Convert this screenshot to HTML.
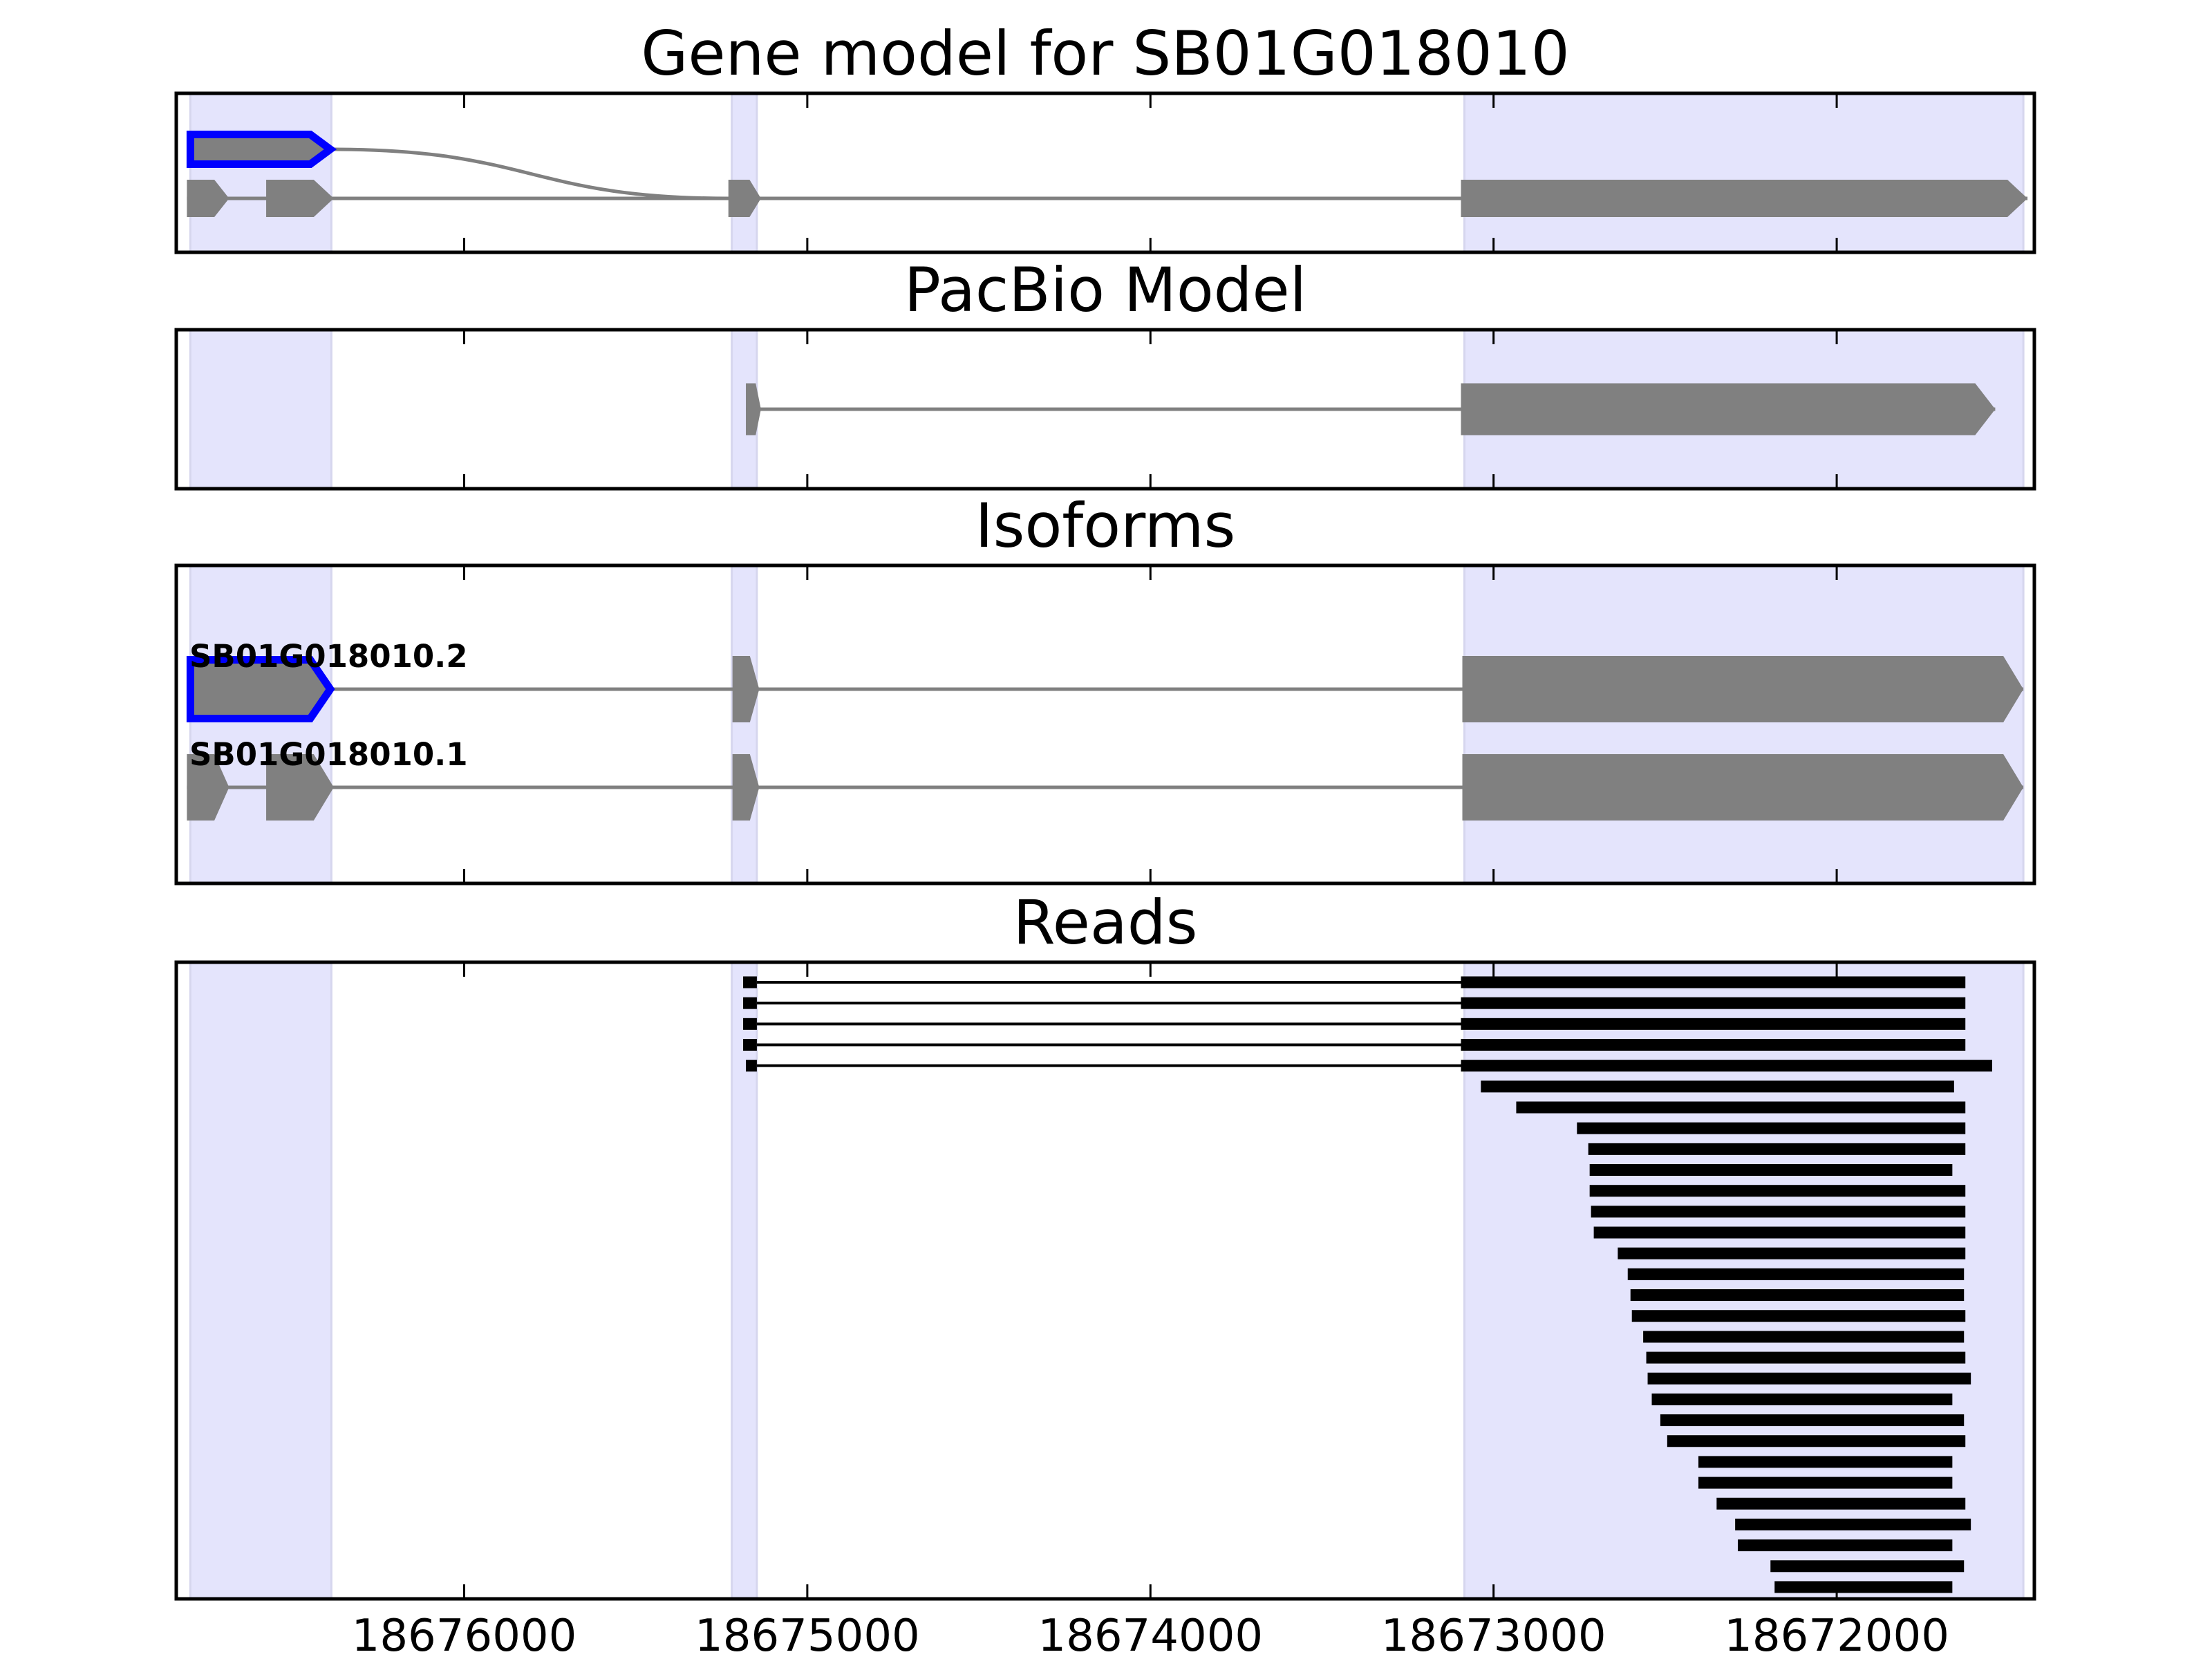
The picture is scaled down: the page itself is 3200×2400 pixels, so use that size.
<!DOCTYPE html>
<html><head><meta charset="utf-8">
<style>
html,body{margin:0;padding:0;background:#fff;}
svg{display:block;}
text{font-family:"DejaVu Sans","Liberation Sans",sans-serif;}
</style></head>
<body>
<svg id="fig" width="3200" height="2400" viewBox="0 0 3200 2400" xmlns="http://www.w3.org/2000/svg"></svg>
<script>
// ---- data (genomic coordinates) ----
const tickValues = [18676000, 18675000, 18674000, 18673000, 18672000];
const tickLabels = ["18676000", "18675000", "18674000", "18673000", "18672000"];
const shadedStarts = [18676798, 18675220, 18673085];
const shadedEnds   = [18676387, 18675147, 18671456];
const geneAltExonStarts = [18676808];
const geneAltExonEnds   = [18676380];
const geneExonStarts = [18676808, 18676577, 18675230, 18673095];
const geneExonEnds   = [18676685, 18676380, 18675135, 18671444];
const pacbioExonStarts = [18675179, 18673095];
const pacbioExonEnds   = [18675135, 18671538];
const iso2ExonStarts = [18676808, 18675218, 18673091];
const iso2ExonEnds   = [18676380, 18675140, 18671456];
const iso1ExonStarts = [18676808, 18676577, 18675218, 18673091];
const iso1ExonEnds   = [18676685, 18676380, 18675140, 18671456];
const isoformNames = ["SB01G018010.2", "SB01G018010.1"];
const readStarts = [18673095,18673095,18673095,18673095,18673095,18673037,18672934,18672757,18672724,18672720,18672720,18672716,18672708,18672638,18672609,18672601,18672597,18672564,18672555,18672551,18672539,18672514,18672494,18672403,18672403,18672350,18672296,18672288,18672193,18672181];
const readEnds   = [18671625,18671625,18671625,18671625,18671547,18671658,18671625,18671625,18671625,18671663,18671625,18671625,18671625,18671625,18671629,18671629,18671625,18671629,18671625,18671609,18671663,18671629,18671625,18671663,18671663,18671625,18671609,18671663,18671629,18671663];
const splicedReadBlockStarts = [18675187,18675187,18675187,18675187,18675179];
const splicedReadBlockEnds   = [18675147,18675147,18675147,18675147,18675147];

// ---- layout ----
const NS = "http://www.w3.org/2000/svg";
const svg = document.getElementById('fig');
const AX_L = 255, AX_R = 2943;
const X0V = 18676839, X1V = 18671424;
function xs(v){ return AX_L + (X0V - v) / (X0V - X1V) * (AX_R - AX_L); }
const panels = [
  {top:135, bot:365, title:"Gene model for SB01G018010", name:"gene-model-panel"},
  {top:477, bot:707, title:"PacBio Model", name:"pacbio-model-panel"},
  {top:818, bot:1278, title:"Isoforms", name:"isoforms-panel"},
  {top:1392, bot:2313, title:"Reads", name:"reads-panel"}
];
function mk(tag, attrs, parent){
  const e = document.createElementNS(NS, tag);
  for (const k in attrs) e.setAttribute(k, attrs[k]);
  (parent || svg).appendChild(e);
  return e;
}
const GRAY = "#808080";
function exonPath(s, e, yc, h, inset){
  const x1 = xs(s) + inset, x2 = xs(e) - inset;
  const len = x2 - x1;
  const tip = Math.min(29, len * 0.35);
  const t = h / 2;
  return `M${x1},${yc - t} L${x2 - tip},${yc - t} L${x2},${yc} L${x2 - tip},${yc + t} L${x1},${yc + t} Z`;
}
function drawModel(g, starts, ends, yc, h, outlineFirst, nm){
  const line = mk('line', {x1: xs(starts[0]), x2: xs(ends[ends.length - 1]), y1: yc, y2: yc, stroke: GRAY, 'stroke-width': 5}, g);
  
  
  for (let i = 0; i < starts.length; i++){
    const blue = outlineFirst && i === 0;
    const p = mk('path', {d: exonPath(starts[i], ends[i], yc, blue ? h - 11 : h, blue ? 5 : 0), fill: GRAY,
      stroke: blue ? "#0000ff" : "none", 'stroke-width': blue ? 11 : 0, 'stroke-linejoin': 'miter'}, g);
    
    
  }
}

panels.forEach((P, pi) => {
  const g = mk('g', {});
  
  
  for (let i = 0; i < shadedStarts.length; i++){
    const r = mk('rect', {x: xs(shadedStarts[i]), y: P.top, width: xs(shadedEnds[i]) - xs(shadedStarts[i]), height: P.bot - P.top,
      fill: "#e4e4fc", stroke: "#d6d6ee", 'stroke-width': 3}, g);
    
    
  }
  const t = mk('text', {x: (AX_L + AX_R) / 2, y: P.top - 27, 'font-size': 88, 'text-anchor': 'middle', fill: '#000'}, g);
  t.textContent = P.title;
  
  
  P.g = g;
});

(function(){
  const g = panels[0].g;
  const yU = 216, yL = 287;
  const xa = xs(geneAltExonEnds[0]), xb = xs(geneExonStarts[2]);
  const c = mk('path', {d: `M${xa},${yU} C${(xa + xb) / 2},${yU} ${(xa + xb) / 2},${yL} ${xb},${yL}`, fill: 'none', stroke: GRAY, 'stroke-width': 5}, g);
  
  
  drawModel(g, geneExonStarts, geneExonEnds, yL, 54, false, 'gene-model');
  drawModel(g, geneAltExonStarts, geneAltExonEnds, yU, 54, true, 'gene-model-alt');
})();
drawModel(panels[1].g, pacbioExonStarts, pacbioExonEnds, 592, 75, false, 'pacbio');
(function(){
  const g = panels[2].g;
  const rows = [{s: iso2ExonStarts, e: iso2ExonEnds, y: 997, ly: 965, blue: true},
                {s: iso1ExonStarts, e: iso1ExonEnds, y: 1139, ly: 1107, blue: false}];
  rows.forEach((r, i) => {
    drawModel(g, r.s, r.e, r.y, 96, r.blue, 'isoform-' + (i + 1));
    const t = mk('text', {x: 274, y: r.ly, 'font-size': 45, 'font-weight': 'bold', fill: '#000'}, g);
    t.textContent = isoformNames[i];
    
    
  });
})();
(function(){
  const g = panels[3].g;
  const y0 = 1421, step = 30.17, h = 17;
  for (let i = 0; i < readStarts.length; i++){
    const y = y0 + i * step;
    if (i < splicedReadBlockStarts.length){
      const l = mk('line', {x1: xs(splicedReadBlockEnds[i]), x2: xs(readStarts[i]), y1: y, y2: y, stroke: '#000', 'stroke-width': 4}, g);
      
      
      const b = mk('rect', {x: xs(splicedReadBlockStarts[i]), y: y - h / 2, width: xs(splicedReadBlockEnds[i]) - xs(splicedReadBlockStarts[i]), height: h, fill: '#000'}, g);
      
      
    }
    const r = mk('rect', {x: xs(readStarts[i]), y: y - h / 2, width: xs(readEnds[i]) - xs(readStarts[i]), height: h, fill: '#000'}, g);
    
    
  }
})();

panels.forEach((P, pi) => {
  const g = P.g;
  tickValues.forEach((v, i) => {
    const x = xs(v);
    const t1 = mk('line', {x1: x, x2: x, y1: P.top, y2: P.top + 21, stroke: '#000', 'stroke-width': 3}, g);
    
    
    const t2 = mk('line', {x1: x, x2: x, y1: P.bot, y2: P.bot - 21, stroke: '#000', 'stroke-width': 3}, g);
    
    
    if (pi === panels.length - 1){
      const lb = mk('text', {x: x, y: 2388, 'font-size': 64, 'text-anchor': 'middle', fill: '#000'}, g);
      lb.textContent = tickLabels[i];
      
      
    }
  });
  const f = mk('rect', {x: AX_L, y: P.top, width: AX_R - AX_L, height: P.bot - P.top, fill: 'none', stroke: '#000', 'stroke-width': 5}, g);
  
  
});
</script>
</body></html>
